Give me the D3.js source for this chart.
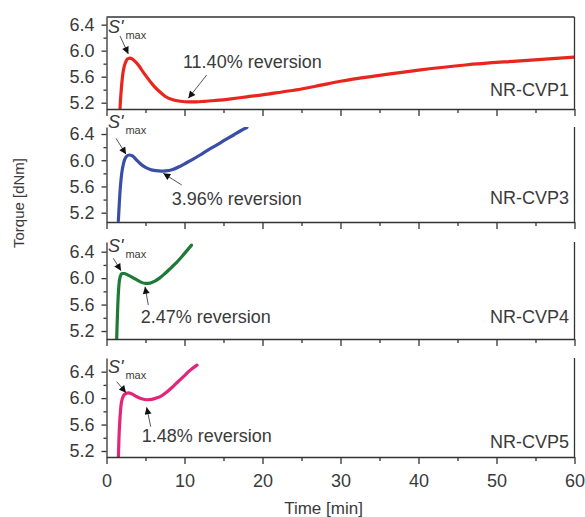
<!DOCTYPE html>
<html>
<head>
<meta charset="utf-8">
<script src="https://cdn.jsdelivr.net/npm/d3@7/dist/d3.min.js"></script>
<style>
  html, body { margin: 0; padding: 0; background: #fff; }
  svg { display: block; }
  text { font-family: "Liberation Sans", Arial, Helvetica, sans-serif; fill: #3a3a3a; }
</style>
</head>
<body>
<script>
// ---------------- DATA ----------------
const xTicksMajor = [0, 10, 20, 30, 40, 50, 60];
const xTicksMinor = [5, 15, 25, 35, 45, 55];
const yTicksMajor = [5.2, 5.6, 6.0, 6.4];
const yTicksMinor = [5.4, 5.8, 6.2];

const sampleNames = ["NR-CVP1", "NR-CVP3", "NR-CVP4", "NR-CVP5"];
const reversionLabels = ["11.40% reversion", "3.96% reversion", "2.47% reversion", "1.48% reversion"];

// NR-CVP1 (red)
const cvp1Time   = [1.7, 1.8, 1.95, 2.1, 2.3, 2.55, 2.8, 3.0, 3.3, 3.7, 4.2, 4.7, 5.2, 5.7, 6.2, 6.9, 7.5, 8.5, 9.5, 10.5, 11.5, 12.5, 14, 16, 18, 20, 22.5, 25, 27.5, 30, 35, 40, 46, 52.6, 60];
const cvp1Torque = [5.05, 5.25, 5.48, 5.65, 5.77, 5.85, 5.878, 5.885, 5.875, 5.83, 5.76, 5.67, 5.59, 5.51, 5.44, 5.36, 5.30, 5.245, 5.222, 5.214, 5.214, 5.22, 5.235, 5.26, 5.29, 5.32, 5.365, 5.41, 5.47, 5.53, 5.62, 5.70, 5.78, 5.84, 5.90];
// NR-CVP3 (blue)
const cvp3Time   = [1.52, 1.6, 1.75, 1.95, 2.2, 2.5, 2.9, 3.3, 3.8, 4.3, 5.0, 5.6, 6.3, 7.0, 7.6, 8.5, 9.3, 10.0, 11, 12, 13, 14.1, 15.2, 16.3, 17.2, 18.0];
const cvp3Torque = [5.08, 5.25, 5.55, 5.80, 5.96, 6.05, 6.08, 6.07, 6.01, 5.95, 5.89, 5.86, 5.842, 5.835, 5.838, 5.86, 5.90, 5.945, 6.01, 6.08, 6.155, 6.23, 6.31, 6.385, 6.45, 6.50];
// NR-CVP4 (green)
const cvp4Time   = [1.3, 1.36, 1.45, 1.58, 1.75, 2.0, 2.3, 2.7, 3.2, 3.8, 4.4, 5.0, 5.6, 6.2, 6.8, 7.5, 8.3, 9.0, 9.9, 10.9];
const cvp4Torque = [5.05, 5.30, 5.60, 5.88, 6.02, 6.07, 6.07, 6.05, 6.02, 5.98, 5.94, 5.92, 5.925, 5.955, 6.00, 6.07, 6.16, 6.24, 6.36, 6.50];
// NR-CVP5 (magenta)
const cvp5Time   = [1.52, 1.6, 1.72, 1.85, 2.05, 2.35, 2.8, 3.3, 3.9, 4.5, 5.2, 5.8, 6.4, 7.0, 7.7, 8.4, 9.1, 9.9, 10.7, 11.6];
const cvp5Torque = [5.08, 5.40, 5.68, 5.88, 6.00, 6.06, 6.08, 6.06, 6.02, 5.99, 5.975, 5.98, 6.00, 6.03, 6.09, 6.16, 6.24, 6.33, 6.42, 6.50];

// ---------------- LAYOUT / STYLE ----------------
const W = 585, H = 517;
const xLeft = 106.5, xRight = 574.5;
const panels = [
  { time: cvp1Time, torque: cvp1Torque, color: "#e8261e", top: 17,  bottom: 109, domain: [5.103, 6.518], topBorder: true },
  { time: cvp3Time, torque: cvp3Torque, color: "#3b4ea6", top: 127, bottom: 222, domain: [5.058, 6.507] },
  { time: cvp4Time, torque: cvp4Torque, color: "#1f7a38", top: 242, bottom: 339, domain: [5.079, 6.547] },
  { time: cvp5Time, torque: cvp5Torque, color: "#e3247a", top: 358, bottom: 457, domain: [5.109, 6.607] }
];
// annotation anchors in data units (time, torque)
const annot = [
  { s: [0.19, 6.272], sArrow: [[1.73, 6.226], [2.8, 5.95]],  rev: [9.8, 5.734],  revArrow: [[12.85, 5.626], [10.49, 5.268]], name: [59.3, 5.303] },
  { s: [0.19, 6.487], sArrow: [[1.22, 6.334], [2.5, 6.09]],  rev: [8.36, 5.318], revArrow: [[9.64, 5.623], [7.28, 5.80]],   name: [59.3, 5.333] },
  { s: [0.19, 6.395], sArrow: [[0.87, 6.30],  [1.86, 6.113]], rev: [4.38, 5.321], revArrow: [[5.36, 5.594], [4.94, 5.87]],   name: [59.3, 5.321] },
  { s: [0.19, 6.38],  sArrow: [[1.31, 6.249], [2.5, 6.082]], rev: [4.51, 5.341], revArrow: [[5.67, 5.568], [5.15, 5.861]],  name: [59.3, 5.246] }
];

const svg = d3.select("body").append("svg").attr("width", W).attr("height", H);
const defs = svg.append("defs");
defs.append("marker")
  .attr("id", "head").attr("viewBox", "0 0 10 10")
  .attr("refX", 10).attr("refY", 5)
  .attr("markerUnits", "userSpaceOnUse")
  .attr("markerWidth", 9).attr("markerHeight", 7)
  .attr("orient", "auto")
  .append("path").attr("d", "M0,0 L10,5 L0,10 Z").attr("fill", "#111");

const x = d3.scaleLinear().domain([0, 60]).range([xLeft, xRight]);
const axisColor = "#333";

panels.forEach((p, i) => {
  const y = d3.scaleLinear().domain(p.domain).range([p.bottom, p.top]);
  const g = svg.append("g");

  defs.append("clipPath").attr("id", "clip" + i)
    .append("rect").attr("x", xLeft).attr("y", p.top).attr("width", xRight - xLeft).attr("height", p.bottom - p.top);

  const pts = p.time.map((t, k) => [t, p.torque[k]]);
  const line = d3.line().x(d => x(d[0])).y(d => y(d[1])).curve(d3.curveMonotoneX);
  g.append("path").datum(pts)
    .attr("clip-path", "url(#clip" + i + ")")
    .attr("d", line).attr("fill", "none")
    .attr("stroke", p.color).attr("stroke-width", 3.2)
    .attr("stroke-linejoin", "round").attr("stroke-linecap", "round");

  const isLast = i === panels.length - 1;
  const xAxis = d3.axisBottom(x).tickValues(xTicksMajor).tickSize(7).tickSizeOuter(0).tickPadding(10)
    .tickFormat(isLast ? d3.format("d") : () => "");
  const gx = g.append("g").attr("transform", `translate(0,${p.bottom})`).call(xAxis);
  const gxm = g.append("g").attr("transform", `translate(0,${p.bottom})`)
    .call(d3.axisBottom(x).tickValues(xTicksMinor).tickSize(4).tickSizeOuter(0).tickFormat(() => ""));
  gxm.select(".domain").remove();

  const yAxis = d3.axisLeft(y).tickValues(yTicksMajor).tickSize(5).tickSizeOuter(0).tickPadding(7)
    .tickFormat(d3.format(".1f"));
  const gy = g.append("g").attr("transform", `translate(${xLeft},0)`).call(yAxis);
  const gym = g.append("g").attr("transform", `translate(${xLeft},0)`)
    .call(d3.axisLeft(y).tickValues(yTicksMinor).tickSize(3).tickSizeOuter(0).tickFormat(() => ""));
  gym.select(".domain").remove();

  [gx, gxm, gy, gym].forEach(a => {
    a.selectAll("path, line").attr("stroke", axisColor).attr("stroke-width", 1.3);
    a.selectAll("text").attr("fill", "#3a3a3a").style("font-size", "18px")
      .style("font-family", '"Liberation Sans", Arial, sans-serif');
  });

  g.append("line").attr("x1", xRight).attr("x2", xRight).attr("y1", p.top).attr("y2", p.bottom)
    .attr("stroke", axisColor).attr("stroke-width", 1.3);
  if (p.topBorder) {
    g.append("line").attr("x1", xLeft).attr("x2", xRight).attr("y1", p.top).attr("y2", p.top)
      .attr("stroke", axisColor).attr("stroke-width", 1.3);
  }

  const a = annot[i];
  const st = g.append("text").attr("x", x(a.s[0])).attr("y", y(a.s[1]));
  st.append("tspan").text("S'").style("font-style", "italic").style("font-size", "18px");
  st.append("tspan").text("max").attr("dx", 2).attr("dy", 6).style("font-size", "11px");

  [a.sArrow, a.revArrow].forEach(ar => {
    g.append("line")
      .attr("x1", x(ar[0][0])).attr("y1", y(ar[0][1]))
      .attr("x2", x(ar[1][0])).attr("y2", y(ar[1][1]))
      .attr("stroke", "#555").attr("stroke-width", 1)
      .attr("marker-end", "url(#head)");
  });

  g.append("text").attr("x", x(a.rev[0])).attr("y", y(a.rev[1]))
    .style("font-size", "18px").text(reversionLabels[i]);

  g.append("text").attr("x", x(a.name[0])).attr("y", y(a.name[1]))
    .attr("text-anchor", "end").style("font-size", "18px").text(sampleNames[i]);
});

svg.append("text").attr("x", 323.5).attr("y", 514).attr("text-anchor", "middle")
  .style("font-size", "17px").text("Time [min]");
svg.append("text").attr("transform", "translate(24,203) rotate(-90)").attr("text-anchor", "middle")
  .style("font-size", "15px").text("Torque [dNm]");
</script>
</body>
</html>
